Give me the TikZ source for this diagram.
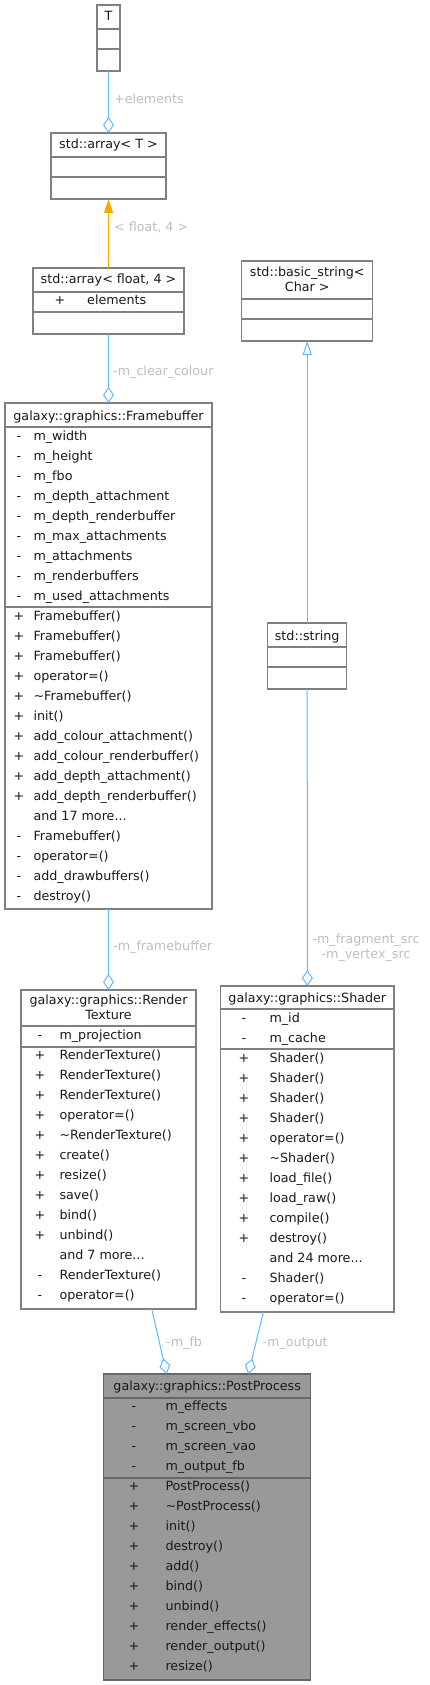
\documentclass[tikz,border=0pt]{standalone}
\usepackage{fontspec}
\usetikzlibrary{arrows.meta}
\newfontfamily\dv{DejaVu Sans}
\definecolor{bordergray}{HTML}{808080}
\definecolor{ppfill}{HTML}{999999}
\definecolor{ppborder}{HTML}{666666}
\definecolor{aggblue}{HTML}{63B8FF}
\definecolor{tmplorange}{HTML}{FFA500}
\definecolor{lblgray}{HTML}{BEBEBE}
\definecolor{txtcol}{HTML}{1A1A1A}
\newcommand\moredots{...}
\tikzset{
  cls/.style={draw=bordergray, line width=1.1pt, fill=white, inner sep=0pt, outer sep=0pt, anchor=north west},
  ppcls/.style={draw=ppborder, line width=1.1pt, fill=ppfill, inner sep=0pt, outer sep=0pt, anchor=north west},
  sepline/.style={draw=bordergray, line width=1.1pt},
  ppsep/.style={draw=ppborder, line width=1.1pt},
  txt/.style={inner sep=0pt, font={\dv\fontsize{12.7}{15}\selectfont}, text=txtcol},
  lbl/.style={inner sep=0pt, font={\dv\fontsize{12.7}{15}\selectfont}, text=lblgray, align=center},
  agg/.style={draw=aggblue, line width=1pt, -{Diamond[open,length=16pt,width=11pt]}},
  inh/.style={draw=aggblue, line width=1pt, -{Triangle[open,length=14pt,width=9pt]}},
  tmpl/.style={draw=tmplorange, line width=1pt, -{Triangle[length=14pt,width=9pt,fill=tmplorange]}},
}
\newcommand\classrows[5]{%
  \foreach \s/\t [count=\i] in {#5} {
    \node[txt,anchor=base] (#1s\i) at (#2,{#4+20*\i-16}) {\s};
    \node[txt,anchor=base west] (#1t\i) at (#3,{#4+20*\i-16}) {\t};
  }%
}
\begin{document}
\begin{tikzpicture}[x=1pt,y=-1pt]
\useasboundingbox (0,0) rectangle (429,1685);

% T
\node[cls,minimum width=23pt,minimum height=66pt] (T) at (97,5) {};
\draw[sepline] (97,29) -- (120,29);
\draw[sepline] (97,49) -- (120,49);
\node[txt,anchor=base] (Tt) at (108.5,21) {T};

% std::array< T >
\node[cls,minimum width=115pt,minimum height=66pt] (arrT) at (51,133) {};
\draw[sepline] (51,157) -- (166,157);
\draw[sepline] (51,177) -- (166,177);
\node[txt,anchor=base] (arrTt) at (108.5,149) {std::array< T >};

% std::array< float, 4 >
\node[cls,minimum width=151pt,minimum height=66pt] (arrF) at (33,268) {};
\draw[sepline] (33,292) -- (184,292);
\draw[sepline] (33,312) -- (184,312);
\node[txt,anchor=base] (arrFt) at (108.5,284) {std::array< float, 4 >};
\node[txt,anchor=base] (arrFs) at (60,305) {+};
\node[txt,anchor=base west] (arrFe) at (87,305) {elements};

% std::basic_string< Char >
\node[cls,minimum width=131pt,minimum height=80pt] (bstr) at (241.7,261) {};
\draw[sepline] (241.7,299) -- (372.7,299);
\draw[sepline] (241.7,319) -- (372.7,319);
\node[txt,anchor=base] (bstrt1) at (307.2,277) {std::basic\_string<};
\node[txt,anchor=base] (bstrt2) at (307.2,291) {Char >};

% std::string
\node[cls,minimum width=79pt,minimum height=66pt] (str) at (267.7,623) {};
\draw[sepline] (267.7,647) -- (346.7,647);
\draw[sepline] (267.7,667) -- (346.7,667);
\node[txt,anchor=base] (strt) at (307.2,640) {std::string};

% Framebuffer
\node[cls,minimum width=207pt,minimum height=506pt] (fb) at (5,403) {};
\draw[sepline] (5,427) -- (212,427);
\draw[sepline] (5,607) -- (212,607);
\node[txt,anchor=base] (fbt) at (108.5,420) {galaxy::graphics::Framebuffer};
\classrows{fba}{19}{33.3}{436}{-/m\_width,-/m\_height,-/m\_fbo,-/m\_depth\_attachment,-/m\_depth\_renderbuffer,-/m\_max\_attachments,-/m\_attachments,-/m\_renderbuffers,-/m\_used\_attachments}
\classrows{fbm}{19}{33.3}{616}{+/Framebuffer(),+/Framebuffer(),+/Framebuffer(),+/operator=(),+/\textasciitilde Framebuffer(),+/init(),+/add\_colour\_attachment(),+/add\_colour\_renderbuffer(),+/add\_depth\_attachment(),+/add\_depth\_renderbuffer(),{}/and 17 more\moredots,-/Framebuffer(),-/operator=(),-/add\_drawbuffers(),-/destroy()}

% RenderTexture
\node[cls,minimum width=175pt,minimum height=319pt] (rt) at (21,990) {};
\draw[sepline] (21,1026) -- (196,1026);
\draw[sepline] (21,1047) -- (196,1047);
\node[txt,anchor=base] (rtt1) at (108.5,1004.5) {galaxy::graphics::Render};
\node[txt,anchor=base] (rtt2) at (108.5,1019) {Texture};
\classrows{rta}{40}{59.3}{1035.7}{-/m\_projection}
\classrows{rtm}{40}{59.3}{1055.3}{+/RenderTexture(),+/RenderTexture(),+/RenderTexture(),+/operator=(),+/\textasciitilde RenderTexture(),+/create(),+/resize(),+/save(),+/bind(),+/unbind(),{}/and 7 more\moredots,-/RenderTexture(),-/operator=()}

% Shader
\node[cls,minimum width=173.3pt,minimum height=326pt] (sh) at (220.7,986) {};
\draw[sepline] (220.7,1009) -- (394,1009);
\draw[sepline] (220.7,1049) -- (394,1049);
\node[txt,anchor=base] (sht) at (307.3,1002) {galaxy::graphics::Shader};
\classrows{sha}{244}{269.3}{1018.3}{-/m\_id,-/m\_cache}
\classrows{shm}{244}{269.3}{1058.3}{+/Shader(),+/Shader(),+/Shader(),+/Shader(),+/operator=(),+/\textasciitilde Shader(),+/load\_file(),+/load\_raw(),+/compile(),+/destroy(),{}/and 24 more\moredots,-/Shader(),-/operator=()}

% PostProcess
\node[ppcls,minimum width=207pt,minimum height=306pt] (pp) at (103.7,1374) {};
\draw[ppsep] (103.7,1398) -- (310.7,1398);
\draw[ppsep] (103.7,1478) -- (310.7,1478);
\node[txt,anchor=base] (ppt) at (207.2,1390.5) {galaxy::graphics::PostProcess};
\classrows{ppa}{134}{165.3}{1406.7}{-/m\_effects,-/m\_screen\_vbo,-/m\_screen\_vao,-/m\_output\_fb}
\classrows{ppm}{134}{165.3}{1486.7}{+/PostProcess(),+/\textasciitilde PostProcess(),+/init(),+/destroy(),+/add(),+/bind(),+/unbind(),+/render\_effects(),+/render\_output(),+/resize()}

% connectors
\draw[agg] (T.south) -- (arrT.north);
\draw[tmpl] (arrF.north) -- (arrT.south);
\draw[agg] (arrF.south) -- (fb.north);
\draw[inh] (str.north) -- (bstr.south);
\draw[agg] (fb.south) -- (rt.north);
\draw[agg] (str.south) -- (sh.north);
\draw[agg] ([xshift=43.2pt]rt.south) -- ([xshift=-40.5pt]pp.north);
\draw[agg] ([xshift=-44pt]sh.south) -- ([xshift=41.1pt]pp.north);

% labels
\node[lbl,anchor=base west] (l1) at (114,104) {+elements};
\node[lbl,anchor=base west] (l2) at (114,232) {< float, 4 >};
\node[lbl,anchor=base west] (l3) at (113,375.5) {-m\_clear\_colour};
\node[lbl,anchor=base west] (l4) at (113,950) {-m\_framebuffer};
\node[lbl,anchor=base] (l5a) at (366,943) {-m\_fragment\_src};
\node[lbl,anchor=base] (l5b) at (366,958) {-m\_vertex\_src};
\node[lbl,anchor=base west] (l6) at (166,1346) {-m\_fb};
\node[lbl,anchor=base west] (l7) at (262.3,1346) {-m\_output};
\end{tikzpicture}
\end{document}
